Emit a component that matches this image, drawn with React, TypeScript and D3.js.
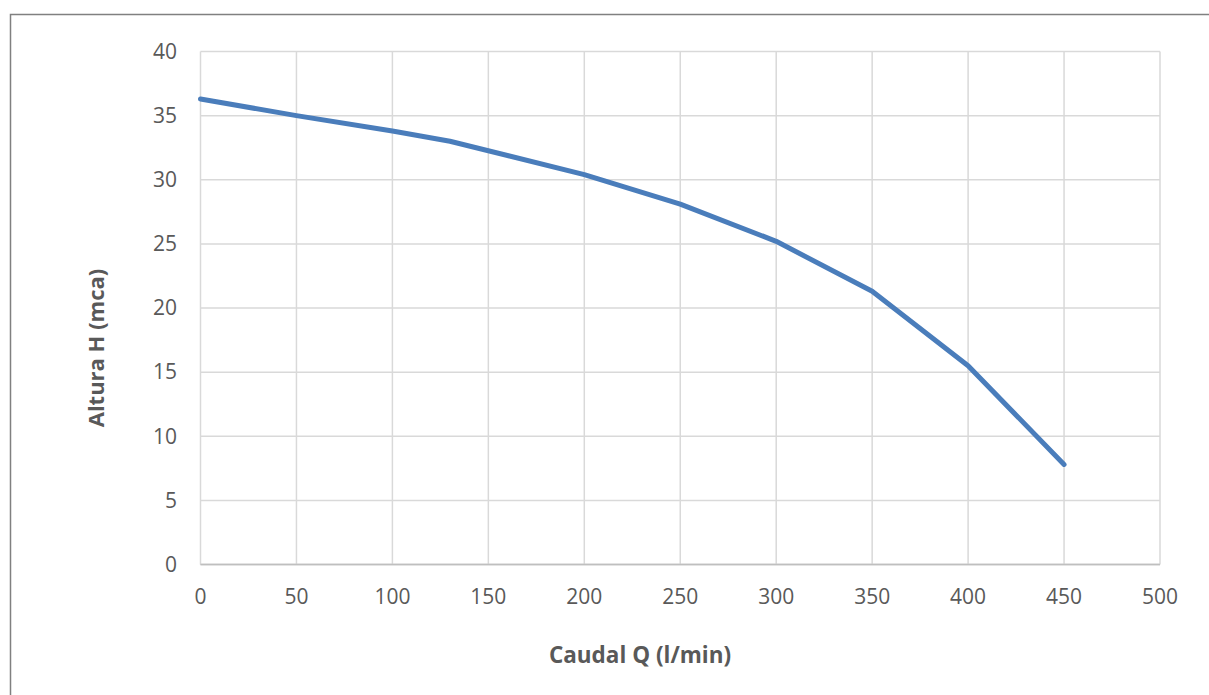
import React from "react";
import * as d3 from "d3";

const flowQ = [0, 50, 100, 130, 200, 250, 300, 350, 400, 450];
const headH = [36.3, 35.0, 33.8, 33.0, 30.4, 28.1, 25.2, 21.3, 15.5, 7.8];
const xTicks = [0, 50, 100, 150, 200, 250, 300, 350, 400, 450, 500];
const yTicks = [0, 5, 10, 15, 20, 25, 30, 35, 40];
const xTitle = "Caudal Q (l/min)";
const yTitle = "Altura H (mca)";

export default function App() {
  const W = 1209, H = 695;
  const left = 200.5, right = 1160, top = 51.5, bottom = 564.5;
  const x = d3.scaleLinear().domain([0, 500]).range([left, right]);
  const y = d3.scaleLinear().domain([0, 40]).range([bottom, top]);
  const pts: [number, number][] = flowQ.map((q, i) => [q, headH[i]]);
  const line = d3.line<[number, number]>().x(d => x(d[0])).y(d => y(d[1]))(pts) || "";
  const font = "'Open Sans', sans-serif";
  const txt = "#595959";
  return (
    <svg width={W} height={H} style={{ position: "absolute", left: 0, top: 0, background: "#fff" }}>
      <rect x={10.5} y={14.5} width={1210} height={700} fill="#fff" stroke="#808080" strokeWidth={1.5} />
      {yTicks.map(t => (
        <line key={"gy" + t} x1={left} x2={right} y1={y(t)} y2={y(t)} stroke={t === 0 ? "#bfbfbf" : "#d9d9d9"} strokeWidth={1.5} />
      ))}
      {xTicks.map(t => (
        <line key={"gx" + t} x1={x(t)} x2={x(t)} y1={top} y2={bottom} stroke="#d9d9d9" strokeWidth={1.5} />
      ))}
      <line x1={left} x2={right} y1={y(0)} y2={y(0)} stroke="#bfbfbf" strokeWidth={1.5} />
      {yTicks.map(t => (
        <text key={"ty" + t} x={177} y={y(t)} dy="0.35em" textAnchor="end" fontFamily={font} fontSize={21} fill={txt}>{t}</text>
      ))}
      {xTicks.map(t => (
        <text key={"tx" + t} x={x(t)} y={597} dy="0.35em" textAnchor="middle" fontFamily={font} fontSize={21} fill={txt}>{t}</text>
      ))}
      <path d={line} fill="none" stroke="#4a7dbb" strokeWidth={5} strokeLinejoin="round" strokeLinecap="round" />
      <text x={640} y={655} dy="0.35em" textAnchor="middle" fontFamily={font} fontWeight="bold" fontSize={22.5} fill={txt}>{xTitle}</text>
      <text transform={`translate(96,348) rotate(-90)`} dy="0.35em" textAnchor="middle" fontFamily={font} fontWeight="bold" fontSize={22} fill={txt}>{yTitle}</text>
    </svg>
  );
}
